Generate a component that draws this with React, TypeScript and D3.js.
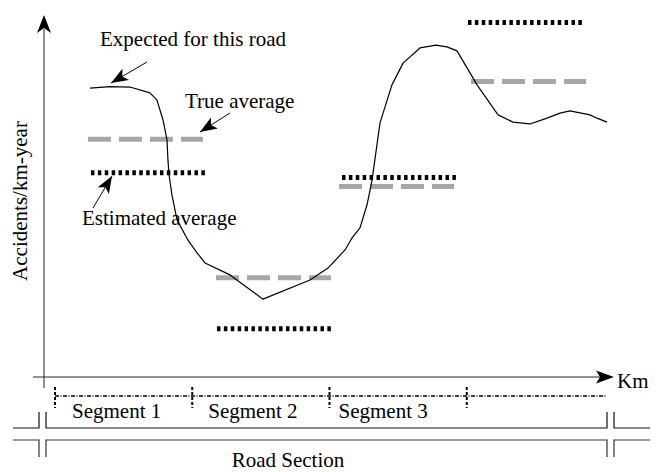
import React from "react";
import * as d3 from "d3";

// ---- data ----
const segmentLabels = ["Segment 1", "Segment 2", "Segment 3"];
const segmentBounds = [0, 1, 2, 3]; // km
const segmentEnd = 4.02;

// expected accidents along the road (km, accidents/km-year index)
const curveKm = [0.255, 0.401, 0.546, 0.692, 0.743, 0.787, 0.816, 0.823, 0.831, 0.852, 0.889, 0.969, 1.035, 1.093, 1.275, 1.515, 1.858, 1.989, 2.113, 2.164, 2.222, 2.273, 2.31, 2.368, 2.455, 2.536, 2.659, 2.776, 2.856, 2.929, 3.002, 3.075, 3.228, 3.337, 3.461, 3.585, 3.679, 3.752, 3.898, 3.949, 4.022];
const curveVal = [79.8, 80.2, 80.1, 78.5, 76.5, 71.0, 65.5, 59.9, 55.8, 50.3, 43.4, 37.8, 34.3, 31.5, 28.2, 21.5, 26.8, 30.1, 35.1, 38.4, 41.2, 47.5, 54.4, 70.2, 80.7, 86.7, 90.9, 91.7, 91.2, 90.1, 85.4, 80.7, 72.4, 70.4, 69.9, 71.5, 72.9, 73.5, 72.4, 71.5, 70.4];

// true average per segment
const trueStart = [0.24, 1.173, 2.069, 3.031];
const trueEnd = [1.078, 2.011, 2.907, 3.869];
const trueVal = [65.7, 27.4, 52.6, 81.6];

// estimated average per segment
const estStart = [0.262, 1.18, 2.091, 3.009];
const estEnd = [1.093, 2.011, 2.922, 3.84];
const estVal = [56.4, 13.3, 55.1, 97.9];

const FONT = "'Liberation Serif', 'Times New Roman', serif";

function arrowHead(tx: number, ty: number, fx: number, fy: number, L = 18, W = 7, N = 5) {
  const dx = tx - fx, dy = ty - fy;
  const len = Math.hypot(dx, dy);
  const ux = dx / len, uy = dy / len;
  const px = -uy, py = ux;
  const bx = tx - L * ux, by = ty - L * uy;
  const nx = tx - (L - N) * ux, ny = ty - (L - N) * uy;
  return `M${tx},${ty}L${bx + W * px},${by + W * py}L${nx},${ny}L${bx - W * px},${by - W * py}Z`;
}

export default function App() {
  const width = 660, height = 472;
  const x = d3.scaleLinear().domain([0, 4]).range([55, 604]);
  const y = d3.scaleLinear().domain([0, 100]).range([377, 15]);

  const line = d3
    .line<number>()
    .x((_, i) => x(curveKm[i]))
    .y((d) => y(d))
    .curve(d3.curveLinear);

  const x0 = 44; // y axis position
  const yAxisTop = y(100);
  const xAxisY = y(0);
  const xTip = 614;

  const segLineY = 396;
  const road1 = 428, road2 = 440;
  const bL1 = 39, bL2 = 46, bR1 = 607, bR2 = 614;

  const annotations = [
    { text: "Expected for this road", tx: 100, ty: 46, from: [147, 62], to: [111, 83] },
    { text: "True average", tx: 185, ty: 108, from: [230, 113], to: [200, 132] },
    { text: "Estimated average", tx: 82, ty: 225, from: [93, 208], to: [112, 176] },
  ];

  return (
    <svg width={width} height={height} style={{ position: "absolute", left: 0, top: 0, background: "#fff" }} fontFamily={FONT}>
      {/* axes */}
      <line x1={x0} y1={388} x2={x0} y2={yAxisTop + 14} stroke="#222" strokeWidth={1} />
      <path d={arrowHead(x0, yAxisTop, x0, 200)} fill="#000" />
      <line x1={33} y1={xAxisY} x2={xTip - 14} y2={xAxisY} stroke="#222" strokeWidth={1} />
      <path d={arrowHead(xTip, xAxisY, 300, xAxisY, 18, 6.5, 4)} fill="#000" />
      <text x={617} y={388} fontSize={21}>Km</text>
      <text transform={`translate(27, ${201}) rotate(-90)`} textAnchor="middle" fontSize={21}>Accidents/km-year</text>

      {/* true averages */}
      {trueVal.map((v, i) => (
        <line key={"t" + i} x1={x(trueStart[i])} x2={x(trueEnd[i])} y1={y(v)} y2={y(v)} stroke="#a6a6a6" strokeWidth={5} strokeDasharray="23 8" />
      ))}
      {/* estimated averages */}
      {estVal.map((v, i) => (
        <line key={"e" + i} x1={x(estStart[i])} x2={x(estEnd[i])} y1={y(v)} y2={y(v)} stroke="#000" strokeWidth={5} strokeDasharray="3.5 3.4" />
      ))}

      {/* expected curve */}
      <path d={line(curveVal) || ""} fill="none" stroke="#000" strokeWidth={1.2} strokeLinejoin="round" />

      {/* annotations */}
      {annotations.map((a, i) => (
        <g key={"a" + i}>
          <text x={a.tx} y={a.ty} fontSize={21}>{a.text}</text>
          <line x1={a.from[0]} y1={a.from[1]} x2={a.to[0]} y2={a.to[1]} stroke="#000" strokeWidth={1} />
          <path d={arrowHead(a.to[0], a.to[1], a.from[0], a.from[1], 17, 6.5, 4)} fill="#000" />
        </g>
      ))}

      {/* segments */}
      <line x1={x(0)} x2={x(segmentEnd)} y1={segLineY} y2={segLineY} stroke="#000" strokeWidth={1.4} strokeDasharray="4 1.5 1 1.5" />
      {segmentBounds.map((b, i) => (
        <line key={"sb" + i} x1={x(b)} x2={x(b)} y1={387} y2={408} stroke="#000" strokeWidth={2} strokeDasharray="3 2" />
      ))}
      {segmentLabels.map((s, i) => (
        <text key={"sl" + i} x={x(i + 0.5) + (i === 0 ? -7 : i === 2 ? -15 : -8)} y={418} fontSize={21} textAnchor="middle">{s}</text>
      ))}

      {/* road section */}
      <path d={`M13,${road1}H${bL1}V412M${bL2},412V${road1}H${bR1}V412M${bR2},412V${road1}H650`} fill="none" stroke="#111" strokeWidth={1.2} />
      <path d={`M13,${road2}H${bL1}V457M${bL2},457V${road2}H${bR1}V457M${bR2},457V${road2}H650`} fill="none" stroke="#333" strokeWidth={1.2} />
      <text x={288} y={467} fontSize={21} textAnchor="middle">Road Section</text>
    </svg>
  );
}
